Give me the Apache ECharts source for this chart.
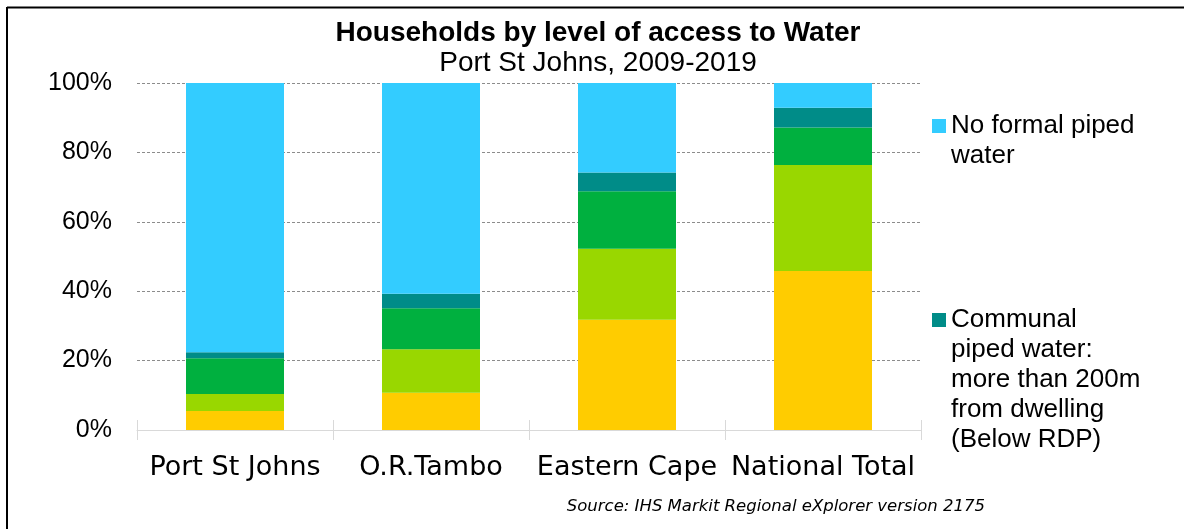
<!DOCTYPE html>
<html>
<head>
<meta charset="utf-8">
<title>Households by level of access to Water</title>
<script src="https://cdn.jsdelivr.net/npm/echarts@6/dist/echarts.min.js"></script>
<style>
  html, body { margin: 0; padding: 0; background: #ffffff; }
  #chart { width: 1184px; height: 529px; }
</style>
</head>
<body>
<div id="chart"></div>
<script>
// Regions compared
const categories = ['Port St Johns', 'O.R.Tambo', 'Eastern Cape', 'National Total'];

// Share of households (%) per access level, bottom of the stack first
const pipedInsideDwelling = [5.5, 10.7, 31.8, 45.8];
const pipedInYard = [4.9, 12.6, 20.4, 30.6];
const communalBelow200m = [10.3, 11.8, 16.6, 10.8];
const communalAbove200m = [1.7, 4.2, 5.4, 5.7];
const noFormalPiped = [77.6, 60.7, 25.8, 7.1];

const yTicks = [0, 20, 40, 60, 80, 100];

const seriesNames = [
  'Piped water inside dwelling',
  'Piped water in yard',
  'Communal piped water: less than 200m from dwelling (At RDP-level)',
  'Communal piped water: more than 200m from dwelling (Below RDP)',
  'No formal piped water'
];
const seriesData = [pipedInsideDwelling, pipedInYard, communalBelow200m, communalAbove200m, noFormalPiped];
const seriesColors = ['#ffcc00', '#99d700', '#00b03f', '#008c88', '#33ccff'];

// Wrapped legend labels; leading blank lines keep the key square level with the first line
const legendLabels = {
  'No formal piped water': '\nNo formal piped\nwater',
  'Communal piped water: more than 200m from dwelling (Below RDP)':
    '\n\n\n\nCommunal\npiped water:\nmore than 200m\nfrom dwelling\n(Below RDP)'
};

const chart = echarts.init(document.getElementById('chart'), null, { renderer: 'canvas' });

const series = seriesNames.map((name, i) => ({
  name: name,
  type: 'bar',
  stack: 'total',
  barWidth: '50%',
  data: seriesData[i],
  itemStyle: { color: seriesColors[i] },
  emphasis: { disabled: true }
}));

const legendText = { fontFamily: 'Liberation Sans, Arial, sans-serif', fontSize: 26, color: '#000', lineHeight: 30 };

function legendBlock(name, top) {
  return {
    orient: 'vertical', left: 932, top: top, padding: 0,
    itemWidth: 14, itemHeight: 14, icon: 'rect',
    data: [name],
    formatter: n => legendLabels[n] || n,
    textStyle: legendText,
    selectedMode: false
  };
}

chart.setOption({
  animation: false,
  backgroundColor: '#ffffff',
  title: [
    {
      text: 'Households by level of access to Water',
      left: 598, top: 19, padding: 0, textAlign: 'center',
      textStyle: { fontFamily: 'Liberation Sans, Arial, sans-serif', fontWeight: 'bold', fontSize: 28, lineHeight: 28, color: '#000' }
    },
    {
      text: 'Port St Johns, 2009-2019',
      left: 598, top: 49, padding: 0, textAlign: 'center',
      textStyle: { fontFamily: 'Liberation Sans, Arial, sans-serif', fontWeight: 'normal', fontSize: 28, lineHeight: 28, color: '#000' }
    },
    {
      text: 'Source: IHS Markit Regional eXplorer version 2175',
      right: 199, top: 498, padding: 0,
      textStyle: { fontFamily: 'DejaVu Sans, Verdana, sans-serif', fontStyle: 'italic', fontWeight: 'normal', fontSize: 16.5, lineHeight: 18, color: '#000' }
    }
  ],
  legend: [
    legendBlock('No formal piped water', 81),
    legendBlock('Communal piped water: more than 200m from dwelling (Below RDP)', 185)
  ],
  grid: { left: 137, right: 263, top: 83, bottom: 99, containLabel: false },
  xAxis: [
    {
      type: 'category',
      data: categories,
      position: 'bottom',
      axisLine: { lineStyle: { color: '#d9d9d9', width: 1 } },
      axisTick: { show: true, inside: false, length: 10, lineStyle: { color: '#d9d9d9' } },
      axisLabel: { interval: 0, margin: 24, fontFamily: 'DejaVu Sans, Verdana, sans-serif', fontSize: 27, color: '#000' }
    },
    {
      type: 'category',
      data: categories,
      position: 'bottom',
      axisLine: { show: false },
      axisTick: { show: true, inside: true, length: 10, lineStyle: { color: '#d9d9d9' } },
      axisLabel: { show: false },
      splitLine: { show: false }
    }
  ],
  yAxis: {
    type: 'value',
    min: yTicks[0], max: yTicks[yTicks.length - 1], interval: 20,
    axisLine: { show: false },
    axisTick: { show: false },
    axisLabel: {
      margin: 25,
      formatter: '{value}%',
      fontFamily: 'Liberation Sans, Arial, sans-serif', fontSize: 25, color: '#000'
    },
    splitLine: { lineStyle: { color: '#8c8c8c', type: [3, 2], width: 1 } }
  },
  series: series,
  graphic: [
    { type: 'line', shape: { x1: 7, y1: 7.5, x2: 1184, y2: 7.5 }, style: { stroke: '#000', lineWidth: 2 }, silent: true },
    { type: 'line', shape: { x1: 7, y1: 7, x2: 7, y2: 529 }, style: { stroke: '#000', lineWidth: 2 }, silent: true }
  ]
});
</script>
</body>
</html>
